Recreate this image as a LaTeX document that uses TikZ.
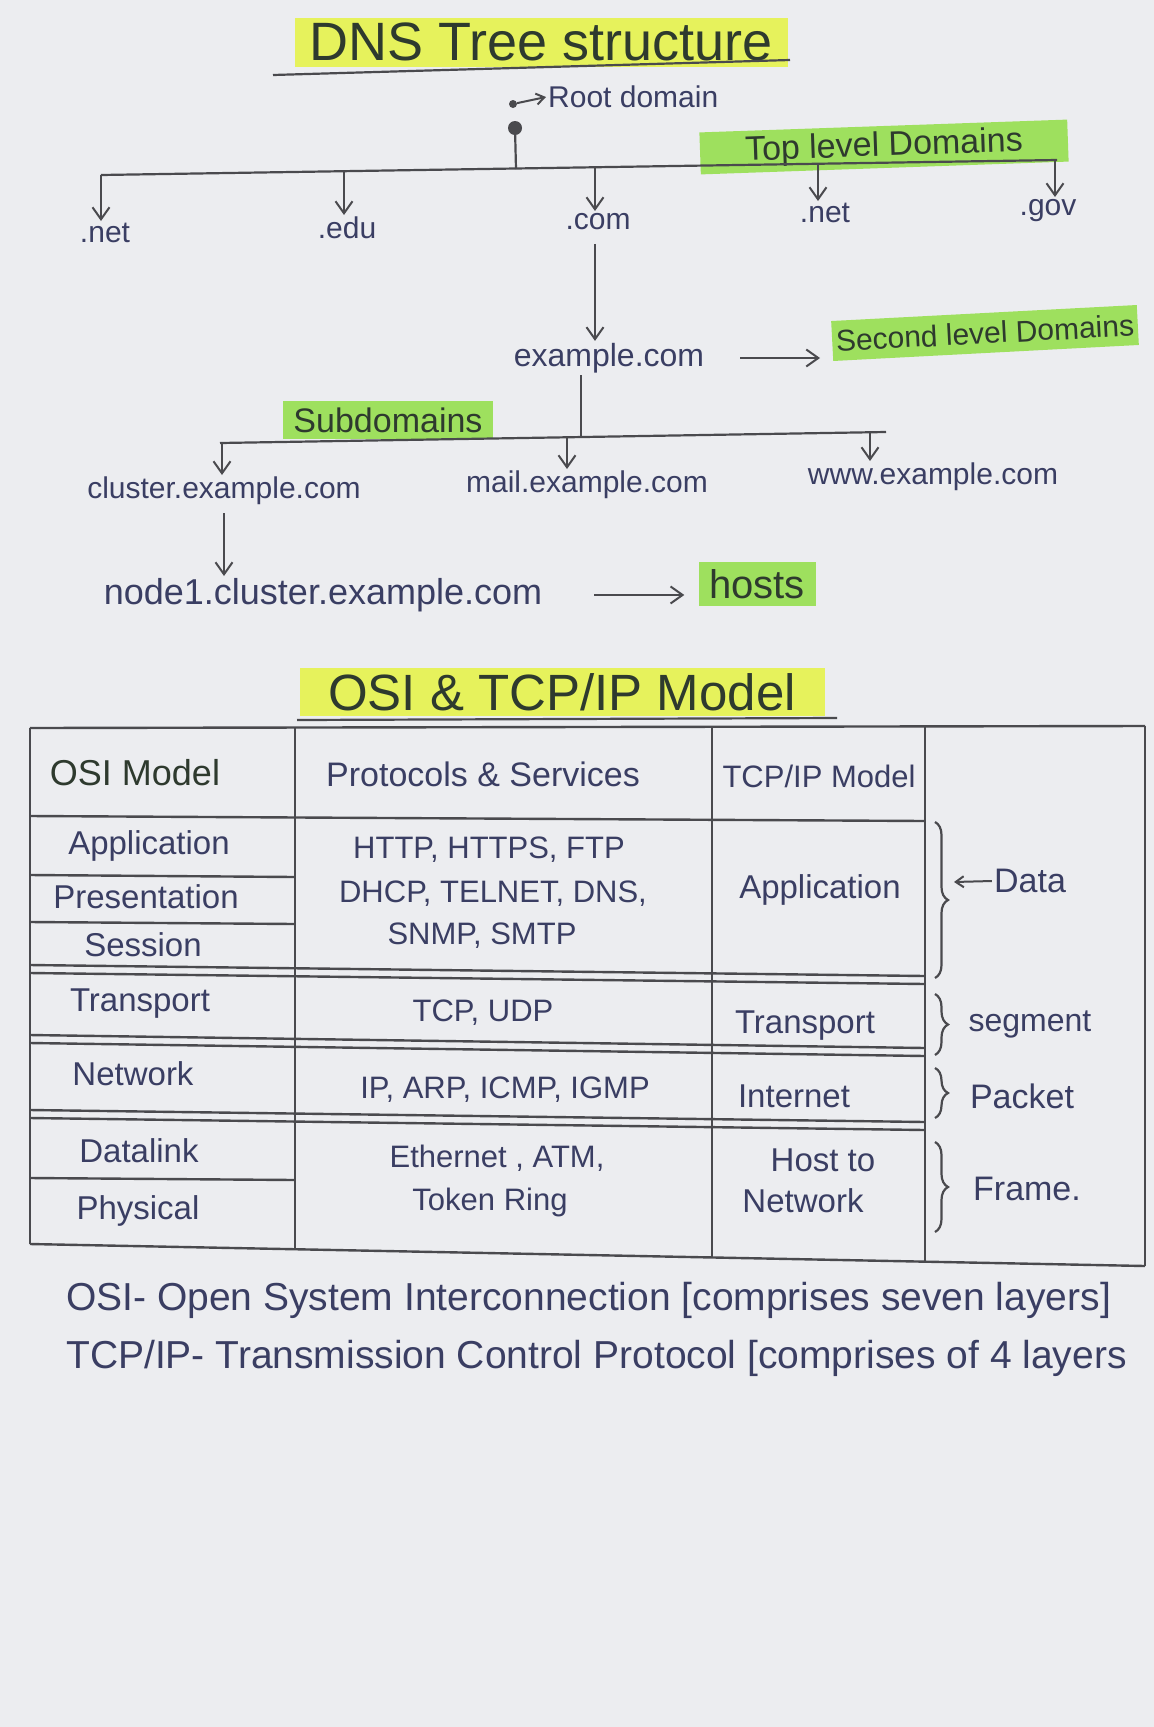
\documentclass[tikz,border=0pt]{standalone}
\usepackage{fontspec}
\setmainfont{Liberation Sans}
\usetikzlibrary{arrows.meta,decorations.pathreplacing}
\definecolor{paper}{HTML}{ECEDF0}
\definecolor{ink}{HTML}{3A3E63}
\definecolor{pencil}{HTML}{4A4A4E}
\definecolor{hlyellow}{HTML}{E6F25C}
\definecolor{hlgreen}{HTML}{9EE05E}
\definecolor{darkink}{HTML}{2E3A2E}
\tikzset{
  lbl/.style={text=ink, inner sep=2pt, font=\fontsize{30}{34}\selectfont},
  cell/.style={text=ink, inner sep=2pt, font=\fontsize{33}{38}\selectfont, align=center},
  proto/.style={text=ink, inner sep=2pt, font=\fontsize{31}{36}\selectfont, align=center},
  hl/.style={fill=#1, text=darkink, inner sep=0pt},
  ln/.style={draw=pencil, line width=2.2pt},
  arr/.style={draw=pencil, line width=2pt, -{Straight Barb[length=12pt,width=17pt]}},
  tline/.style={draw=pencil, line width=2.4pt},
  brc/.style={draw=pencil, line width=2.2pt, decorate, decoration={brace, amplitude=13pt}},
  foot/.style={text=ink, inner sep=0pt, anchor=west, font=\fontsize{39}{44}\selectfont},
}
\begin{document}
\begin{tikzpicture}[x=1pt,y=-1pt]
\path[fill=paper] (0,0) rectangle (1154,1727);
\useasboundingbox (0,0) rectangle (1154,1727);

% ---------------- DNS tree ----------------
\node[hl=hlyellow, minimum width=493pt, minimum height=49pt, font=\fontsize{54}{58}\selectfont] (dnstitle) at (541,42) {DNS Tree structure};
\coordinate (ul1a) at (273,75);
\coordinate (ul1b) at (790,60);
\draw[ln] (ul1a) -- (ul1b);

\node[circle, fill=pencil, inner sep=0pt, minimum size=8pt] (rootdot) at (513,104) {};
\node[lbl, anchor=west] (rootlbl) at (546,97) {Root domain};
\draw[arr, -{Straight Barb[length=8pt,width=11pt]}] (rootdot) -- (rootlbl.west);

\node[circle, fill=pencil, inner sep=0pt, minimum size=14pt] (hub) at (515,128) {};

\node[hl=hlgreen, minimum width=368pt, minimum height=42pt, font=\fontsize{34}{40}\selectfont, rotate=2] (tld) at (884,147) {Top level Domains};

\coordinate (barL) at (101,175);
\coordinate (barR) at (1057,160);
\coordinate (bartop) at (516,169);
\draw[ln] (hub) -- (bartop);
\draw[ln] (barL) -- (barR);
\coordinate (b1) at (101,175);
\coordinate (b2) at (344,171);
\coordinate (b3) at (595,167);
\coordinate (b4) at (818,164);
\coordinate (b5) at (1055,160);

\node[lbl, anchor=north] (net1) at (105,221) {.net};
\node[lbl, anchor=north] (edu) at (347,215) {.edu};
\node[lbl, anchor=north] (com) at (598,211) {.com};
\node[lbl, anchor=north] (net2) at (825,201) {.net};
\node[lbl, anchor=north] (gov) at (1048,197) {.gov};
\draw[arr] (b1) -- (b1 |- net1.north);
\draw[arr] (b2) -- (b2 |- edu.north);
\draw[arr] (b3) -- (b3 |- com.north);
\draw[arr] (b4) -- (b4 |- net2.north);
\draw[arr] (b5) -- (b5 |- gov.north);

\node[lbl, font=\fontsize{32}{36}\selectfont] (ex) at (609,358) {example.com};
\draw[arr, shorten <=12pt] (com.south -| b3) -- (b3 |- ex.north);

\node[hl=hlgreen, minimum width=306pt, minimum height=40pt, font=\fontsize{30}{36}\selectfont, rotate=3] (sld) at (985,333) {Second level Domains};
\draw[arr, shorten <=34pt, shorten >=12pt] (ex.east) -- (ex.east -| sld.west);

\node[hl=hlgreen, minimum width=210pt, minimum height=38pt, font=\fontsize{34}{38}\selectfont] (subd) at (388,420) {Subdomains};

\coordinate (s0) at (581,437);
\coordinate (bar2L) at (220,443);
\coordinate (bar2R) at (886,432);
\draw[ln] (ex.south -| s0) -- (s0);
\draw[ln] (bar2L) -- (bar2R);
\coordinate (c1) at (222,443);
\coordinate (c2) at (567,437);
\coordinate (c3) at (870,432);

\node[lbl, anchor=north] (cluster) at (224,475) {cluster.example.com};
\node[lbl, anchor=north] (mail) at (587,469) {mail.example.com};
\node[lbl, anchor=north] (www) at (933,461) {www.example.com};
\draw[arr] (c1) -- (c1 |- cluster.north);
\draw[arr] (c2) -- (c2 |- mail.north);
\draw[arr] (c3) -- (c3 |- www.north);

\node[lbl, anchor=north, font=\fontsize{36}{40}\selectfont] (node1) at (323,576) {node1.cluster.example.com};
\draw[arr, shorten <=6pt] (cluster.south) -- (cluster.south |- node1.north);

\node[hl=hlgreen, minimum width=117pt, minimum height=44pt, font=\fontsize{40}{44}\selectfont] (hosts) at (757,584) {hosts};
\draw[arr, shorten <=50pt, shorten >=14pt] (node1.east) -- (node1.east -| hosts.west);

% ---------------- OSI table ----------------
\node[hl=hlyellow, minimum width=525pt, minimum height=48pt, font=\fontsize{51}{54}\selectfont] (osititle) at (562,692) {OSI \& TCP/IP Model};
\coordinate (ul2a) at (297,720);
\coordinate (ul2b) at (837,718);
\draw[ln] (ul2a) -- (ul2b);

% corners / grid coordinates
\coordinate (tl) at (30,728);
\coordinate (tr) at (1145,726);
\coordinate (bl) at (30,1244);
\coordinate (brr) at (1145,1266);
\coordinate (k1t) at (295,728);
\coordinate (k1b) at (295,1249);
\coordinate (k2t) at (712,728);
\coordinate (k2b) at (712,1258);
\coordinate (k3t) at (925,727);
\coordinate (k3b) at (925,1262);

\draw[tline] (tl) -- (tr);
\draw[tline] (tl) -- (bl);
\draw[tline] (bl) -- (brr);
\draw[tline] (tr) -- (brr);
\draw[tline] (k1t) -- (k1b);
\draw[tline] (k2t) -- (k2b);
\draw[tline] (k3t) -- (k3b);

\coordinate (h0a) at (30,816);  \coordinate (h0b) at (925,821);
\coordinate (h1a) at (30,875);  \coordinate (h1b) at (295,877);
\coordinate (h2a) at (30,922);  \coordinate (h2b) at (295,924);
\coordinate (h3a) at (30,965);  \coordinate (h3b) at (925,976);
\coordinate (h4a) at (30,973);  \coordinate (h4b) at (925,984);
\coordinate (h5a) at (30,1035); \coordinate (h5b) at (925,1048);
\coordinate (h6a) at (30,1043); \coordinate (h6b) at (925,1056);
\coordinate (h7a) at (30,1110); \coordinate (h7b) at (925,1122);
\coordinate (h8a) at (30,1118); \coordinate (h8b) at (925,1130);
\coordinate (h9a) at (30,1178); \coordinate (h9b) at (295,1180);
\foreach \i in {0,...,9} \draw[tline] (h\i a) -- (h\i b);

% header
\node[cell, font=\fontsize{36}{40}\selectfont, text=darkink] (hosi) at (135,773) {OSI Model};
\node[cell, font=\fontsize{34}{40}\selectfont] (hproto) at (483,774) {Protocols \& Services};
\node[cell, font=\fontsize{31}{36}\selectfont] (htcp) at (819,776) {TCP/IP Model};

% OSI layers
\node[cell] (lapp) at (149,846) {Application};
\node[cell] (lpres) at (146,897) {Presentation};
\node[cell] (lsess) at (143,945) {Session};
\node[cell] (ltrans) at (140,1004) {Transport};
\node[cell] (lnet) at (133,1074) {Network};
\node[cell] (ldl) at (139,1151) {Datalink};
\node[cell] (lphy) at (138,1211) {Physical};

% protocols
\node[proto] (p1) at (489,850) {HTTP, HTTPS, FTP};
\node[proto] (p2) at (493,894) {DHCP, TELNET, DNS,};
\node[proto] (p3) at (482,936) {SNMP, SMTP};
\node[proto] (p4) at (483,1013) {TCP, UDP};
\node[proto] (p5) at (505,1090) {IP, ARP, ICMP, IGMP};
\node[proto] (p6) at (497,1158) {Ethernet , ATM,};
\node[proto] (p7) at (490,1202) {Token Ring};

% TCP/IP layers
\node[cell] (tapp) at (820,890) {Application};
\node[cell] (ttrans) at (805,1026) {Transport};
\node[cell] (tint) at (794,1096) {Internet};
\node[cell] (thost1) at (823,1160) {Host to};
\node[cell] (thost2) at (803,1201) {Network};

% braces and data units
\coordinate (bdA) at (935,822);  \coordinate (bdB) at (935,978);
\coordinate (bsA) at (935,994);  \coordinate (bsB) at (935,1055);
\coordinate (bpA) at (935,1068); \coordinate (bpB) at (935,1118);
\coordinate (bfA) at (935,1142); \coordinate (bfB) at (935,1232);
\draw[brc] (bdA) -- (bdB);
\draw[brc] (bsA) -- (bsB);
\draw[brc] (bpA) -- (bpB);
\draw[brc] (bfA) -- (bfB);

\node[cell, font=\fontsize{34}{38}\selectfont] (udata) at (1030,881) {Data};
\coordinate (dtip) at (954,882);
\draw[arr, -{Straight Barb[length=8pt,width=11pt]}] (udata.west) -- (dtip);
\node[cell, font=\fontsize{32}{36}\selectfont] (useg) at (1030,1024) {segment};
\node[cell, font=\fontsize{34}{38}\selectfont] (upkt) at (1022,1096) {Packet};
\node[cell, font=\fontsize{34}{38}\selectfont] (ufrm) at (1027,1189) {Frame.};

% ---------------- footnotes ----------------
\node[foot] (f1) at (66,1300) {OSI- Open System Interconnection [comprises seven layers]};
\node[foot] (f2) at (66,1358) {TCP/IP- Transmission Control Protocol [comprises of 4 layers};
\end{tikzpicture}
\end{document}
